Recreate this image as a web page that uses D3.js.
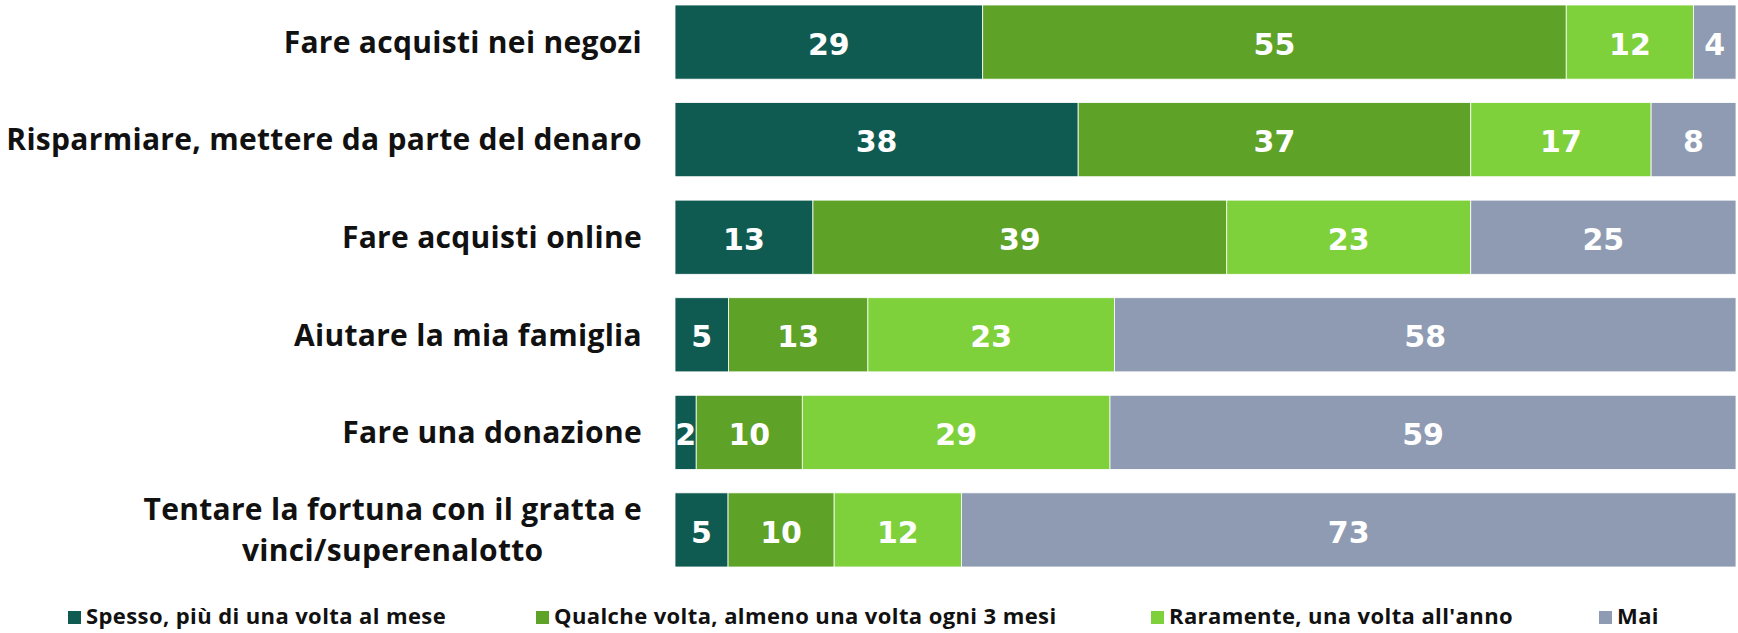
<!DOCTYPE html>
<html>
<head>
<meta charset="utf-8">
<script src="https://cdn.jsdelivr.net/npm/d3@7"></script>
<style>
  body { margin: 0; background: #fff; }
  svg text { font-family: "Open Sans", Lato, sans-serif; font-weight: 700; }
  svg text.value { font-family: "DejaVu Sans", sans-serif; }
</style>
</head>
<body>
<div id="chart"></div>
<script>
// Data (percent, rows top to bottom)
const categories = [
    ['Fare acquisti nei negozi'],
    ['Risparmiare, mettere da parte del denaro'],
    ['Fare acquisti online'],
    ['Aiutare la mia famiglia'],
    ['Fare una donazione'],
    ['Tentare la fortuna con il gratta e', 'vinci/superenalotto']
]
const spesso = [29, 38, 13, 5, 2, 5]
const qualche = [55, 37, 39, 13, 10, 10]
const raramente = [12, 17, 23, 23, 29, 12]
const mai = [4, 8, 25, 58, 59, 73]

const seriesNames = [
    'Spesso, più di una volta al mese',
    'Qualche volta, almeno una volta ogni 3 mesi',
    'Raramente, una volta all\'anno',
    'Mai'
]
const colors = ['#0f5b52', '#5ea228', '#7fd13b', '#8f9bb2']

const width = 1738, height = 633
const margin = {top: 5, right: 2, bottom: 66, left: 675}

const svg = d3.select('#chart')
    .append('svg')
        .attr('width', width)
        .attr('height', height)

// build rows, each row stacked to its own total (one row sums to 99)
const seriesValues = [spesso, qualche, raramente, mai]
const rows = categories.map((c, i) => {
    let total = d3.sum(seriesValues, s => s[i])
    let acc = 0
    const segs = seriesValues.map((s, k) => {
        const seg = {key: k, value: s[i], x0: acc / total * 100, x1: (acc + s[i]) / total * 100}
        acc += s[i]
        return seg
    })
    return {index: i, label: c, segs: segs}
})

const x = d3.scaleLinear().domain([0, 100]).range([margin.left, width - margin.right])
const y = d3.scaleBand()
    .domain(d3.range(categories.length))
    .range([margin.top, height - margin.bottom])
    .paddingInner(0.24)
    .paddingOuter(0)

const rowG = svg.selectAll('.row')
    .data(rows)
    .enter().append('g')
    .attr('class', 'row')
    .attr('transform', d => `translate(0, ${y(d.index)})`)

rowG.selectAll('rect')
    .data(d => d.segs)
    .enter().append('rect')
        .attr('x', d => x(d.x0))
        .attr('width', d => x(d.x1) - x(d.x0))
        .attr('height', y.bandwidth())
        .attr('fill', d => colors[d.key])
        .attr('stroke', '#fff')
        .attr('stroke-width', 0.8)

rowG.selectAll('text.value')
    .data(d => d.segs)
    .enter().append('text')
        .attr('class', 'value')
        .attr('x', d => (x(d.x0) + x(d.x1)) / 2)
        .attr('y', y.bandwidth() / 2)
        .attr('dy', '0.42em')
        .attr('text-anchor', 'middle')
        .attr('fill', '#fff')
        .style('font-size', '30px')
        .text(d => d.value)

// category labels, right aligned; multi-line one centred on its longest line
const labelRight = 642
rowG.each(function(d) {
    const g = d3.select(this)
    const lh = 41
    const lines = d.label.map((line, i) => g.append('text')
        .attr('class', 'cat')
        .attr('fill', '#111')
        .style('font-size', '30px')
        .style('letter-spacing', '0.3px')
        .attr('y', y.bandwidth() / 2 + (i - (d.label.length - 1) / 2) * lh)
        .attr('dy', '0.36em')
        .text(line))
    if (lines.length > 1) {
        const maxW = d3.max(lines, t => t.node().getComputedTextLength())
        lines.forEach(t => t.attr('text-anchor', 'middle').attr('x', labelRight - maxW / 2))
    } else {
        lines[0].attr('text-anchor', 'end').attr('x', labelRight)
    }
})

// legend
const legendX = [68, 536, 1151, 1599]
const legend = svg.selectAll('.legend')
    .data(seriesNames)
    .enter().append('g')
    .attr('class', 'legend')
    .attr('transform', (d, i) => `translate(${legendX[i]}, 611)`)

legend.append('rect')
    .attr('width', 13)
    .attr('height', 13)
    .attr('fill', (d, i) => colors[i])

legend.append('text')
    .attr('x', 18)
    .attr('y', 13)
    .attr('fill', '#111')
    .style('font-size', '22px')
    .style('letter-spacing', '0.4px')
    .text(d => d)
</script>
</body>
</html>
